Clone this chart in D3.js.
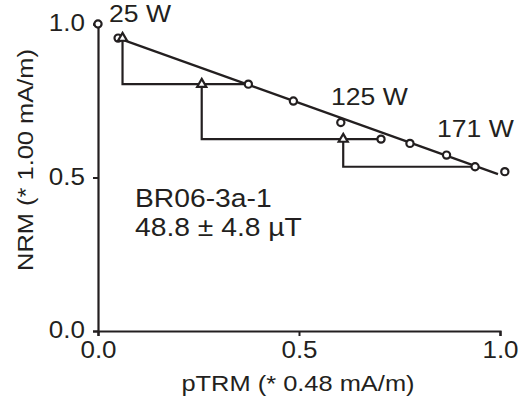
<!DOCTYPE html>
<html><head><meta charset="utf-8">
<script src="https://cdn.jsdelivr.net/npm/d3@7"></script>
<style>body{margin:0;background:#fff}svg{display:block}text{font-family:"Liberation Sans",Arial,sans-serif;fill:#231f20}</style>
</head><body>
<script>
// Arai plot data (normalized)
const ptrmValues = [0.000, 0.050, 0.374, 0.486, 0.604, 0.704, 0.776, 0.867, 0.938, 1.012];
const nrmValues  = [1.000, 0.954, 0.804, 0.749, 0.679, 0.625, 0.611, 0.573, 0.535, 0.519];
const checkPtrm  = [0.061, 0.258, 0.610];
const checkFrom  = [1, 2, 5];   // index of point whose NRM the check sits at
const checkTo    = [2, 5, 8];   // index of point the check connects to
const fitX = [0.050, 0.995];
const fitY = [0.954, 0.511];
const xTicks = [0, 0.5, 1.0];
const yTicks = [0, 0.5, 1.0];
const stepLabels = ["25 W", "125 W", "171 W"];
const sampleName = "BR06-3a-1";
const intensity = "48.8 ± 4.8 µT";
const xTitle = "pTRM (* 0.48 mA/m)";
const yTitle = "NRM (* 1.00 mA/m)";

const W = 528, H = 396, ink = "#231f20", STRETCH = 1.13;
const svg = d3.select("body").append("svg").attr("width", W).attr("height", H);
const x = d3.scaleLinear().domain([0, 1]).range([98, 500]);
const y = d3.scaleLinear().domain([0, 1]).range([331, 24]);

function stretch(sel) {
  sel.each(function () {
    const len = this.getComputedTextLength();
    d3.select(this).attr("textLength", len * STRETCH).attr("lengthAdjust", "spacingAndGlyphs");
  });
  return sel;
}

// axes
const xAxis = svg.append("g").attr("transform", `translate(0,${y(0)})`)
  .call(d3.axisBottom(x).tickValues(xTicks).tickFormat(d3.format(".1f")).tickSizeOuter(0).tickSize(5).tickPadding(6));
const yAxis = svg.append("g").attr("transform", `translate(${x(0)},0)`)
  .call(d3.axisLeft(y).tickValues(yTicks).tickFormat(d3.format(".1f")).tickSizeOuter(0).tickSize(5).tickPadding(8));
[xAxis, yAxis].forEach(g => {
  g.select(".domain").attr("stroke", ink).attr("stroke-width", 2.2);
  g.selectAll(".tick line").attr("stroke", ink).attr("stroke-width", 2);
  g.selectAll(".tick text").attr("font-size", 23).attr("font-family", '"Liberation Sans",Arial,sans-serif').attr("fill", ink);
});
xAxis.selectAll(".tick text").attr("dy", "0.71em");
yAxis.selectAll(".tick text").attr("dy", "0.3em");
stretch(xAxis.selectAll(".tick text"));
stretch(yAxis.selectAll(".tick text"));

// titles
stretch(svg.append("text").attr("x", 298).attr("y", 391).attr("text-anchor", "middle").attr("font-size", 22.5).text(xTitle));
stretch(svg.append("text").attr("transform", "translate(33,160) rotate(-90)").attr("text-anchor", "middle").attr("font-size", 22.5).text(yTitle));

// pTRM check connector lines
const checks = checkPtrm.map((c, i) => ({ cx: c, cy: nrmValues[checkFrom[i]], tx: ptrmValues[checkTo[i]], ty: nrmValues[checkTo[i]] }));
svg.append("g").selectAll("path").data(checks).join("path")
  .attr("d", d => `M${x(d.cx)},${y(d.cy)}V${y(d.ty)}H${x(d.tx)}`)
  .attr("fill", "none").attr("stroke", ink).attr("stroke-width", 2.2);

// fit line
svg.append("line").attr("x1", x(fitX[0])).attr("y1", y(fitY[0])).attr("x2", x(fitX[1])).attr("y2", y(fitY[1]))
  .attr("stroke", ink).attr("stroke-width", 2.2);

// points
svg.append("g").selectAll("circle").data(ptrmValues.map((p, i) => [p, nrmValues[i]])).join("circle")
  .attr("cx", d => x(d[0])).attr("cy", d => y(d[1])).attr("r", 3.6)
  .attr("fill", "#fff").attr("stroke", ink).attr("stroke-width", 2.2);

// check triangles
const tri = d3.symbol().type(d3.symbolTriangle).size(36);
svg.append("g").selectAll("path").data(checks).join("path")
  .attr("d", tri).attr("transform", d => `translate(${x(d.cx)},${y(d.cy)})`)
  .attr("fill", "#fff").attr("stroke", ink).attr("stroke-width", 2.2);

// step labels
const labelPos = [[109, 22], [331, 105], [437, 137]];
stepLabels.forEach((t, i) => stretch(svg.append("text").attr("x", labelPos[i][0]).attr("y", labelPos[i][1]).attr("font-size", 23.5).text(t)));

// annotations
stretch(svg.append("text").attr("x", 135).attr("y", 207).attr("font-size", 25).text(sampleName));
stretch(svg.append("text").attr("x", 135).attr("y", 236).attr("font-size", 25).text(intensity));
</script>
</body></html>
